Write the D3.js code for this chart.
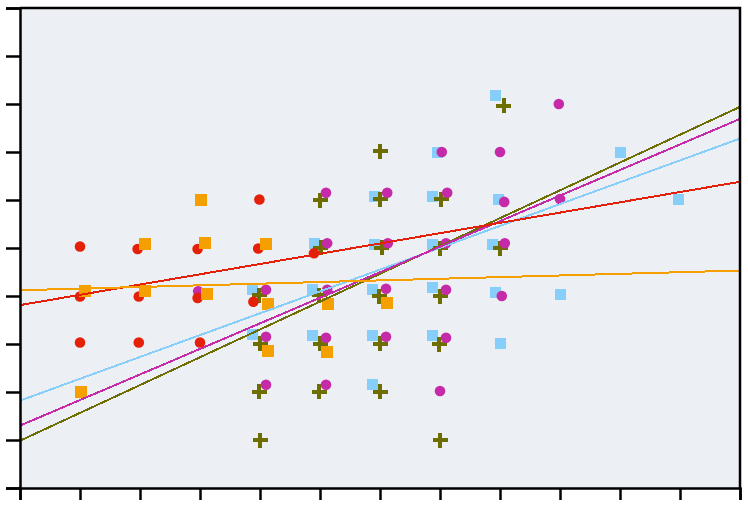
<!DOCTYPE html>
<html>
<head>
<meta charset="utf-8">
<script src="https://cdn.jsdelivr.net/npm/d3@7"></script>
<style>
  body { margin: 0; background: #ffffff; }
  svg { display: block; }
</style>
</head>
<body>
<svg id="chart" width="748" height="508"></svg>
<script>
// ---- data (x, y in data units) ----
const xTicks = [0,1,2,3,4,5,6,7,8,9,10,11,12];
const yTicks = [0,1,2,3,4,5,6,7,8,9,10];

const redPoints = [
  [1.0,5.03],[1.0,3.99],[1.0,3.03],
  [1.96,4.98],[1.98,3.99],[1.98,3.03],
  [2.96,4.98],[2.96,3.96],[3.0,3.03],
  [3.99,6.01],[3.97,4.99],[3.89,3.88],
  [4.9,4.89]
];
const orangePoints = [
  [1.02,2.0],[1.08,4.11],[2.08,5.09],[2.08,4.11],
  [3.02,6.0],[3.08,5.1],[3.12,4.05],
  [4.1,5.09],[4.13,3.84],[4.13,2.86],
  [5.12,2.84],[5.13,3.84],[6.11,3.86]
];
const bluePoints = [
  [7.93,8.17],[6.95,7.0],[10.0,7.0],[10.98,6.02],
  [5.9,6.08],[6.88,6.08],[7.97,6.02],
  [4.9,5.1],[5.9,5.08],[6.88,5.08],[7.87,5.08],
  [3.88,4.13],[4.87,4.13],[5.87,4.13],[6.87,4.17],[7.93,4.08],[9.0,4.04],
  [3.88,3.19],[4.88,3.17],[5.88,3.17],[6.87,3.17],[8.0,3.02],
  [5.88,2.15]
];
const magentaPoints = [
  [8.98,8.0],[7.03,7.0],[8.0,7.0],
  [5.1,6.15],[6.12,6.15],[7.12,6.15],[8.07,5.96],[9.0,6.02],
  [5.12,5.1],[6.13,5.1],[7.1,5.1],[8.08,5.1],
  [2.97,4.1],[4.1,4.13],[5.12,4.13],[6.1,4.15],[7.1,4.13],[8.03,4.0],
  [4.1,3.15],[5.1,3.13],[6.1,3.15],[7.1,3.13],
  [4.1,2.15],[5.1,2.15],[7.0,2.02]
];
const olivePoints = [
  [8.06,7.96],[6.0,7.02],
  [5.0,6.0],[6.0,6.02],[7.02,6.02],
  [5.01,5.01],[6.03,5.01],[7.0,5.0],[8.0,5.0],
  [3.99,4.02],[4.99,4.02],[5.99,4.0],[7.0,4.0],
  [4.0,3.01],[5.0,3.01],[6.0,3.01],[6.99,3.0],
  [3.99,2.01],[4.99,2.01],[6.0,2.01],
  [4.0,1.0],[7.0,1.0]
];

// fitted lines: [y at x=0, y at x=12]
const seriesNames = ["blue","olive","magenta","red","orange"];
const seriesColors = ["#87cefa","#6e6e00","#c52aa8","#e42108","#f5a000"];
const lineStart = [1.82, 0.985, 1.30, 3.81, 4.12];
const lineEnd   = [7.28, 7.94, 7.69, 6.38, 4.53];

(function () {
  const svg = d3.select("#chart");
  const mL = 20, mR = 740, mT = 8, mB = 488;
  const x = d3.scaleLinear().domain([0,12]).range([mL,mR]);
  const y = d3.scaleLinear().domain([0,10]).range([mB,mT]);

  svg.append("rect")
    .attr("x", mL).attr("y", mT)
    .attr("width", mR-mL).attr("height", mB-mT)
    .attr("fill", "#eceff3");

  const color = d3.scaleOrdinal().domain(seriesNames).range(seriesColors);
  const g = svg.append("g").attr("shape-rendering","crispEdges");

  // blue squares
  g.selectAll(".blue").data(bluePoints).enter().append("rect")
    .attr("x", d => x(d[0]) - 5.5).attr("y", d => y(d[1]) - 5.5)
    .attr("width", 11).attr("height", 11)
    .attr("fill", color("blue"));

  // olive plus
  g.selectAll(".olive").data(olivePoints).enter().append("path")
    .attr("transform", d => `translate(${x(d[0])},${y(d[1])})`)
    .attr("d", "M-7.5,0H7.5M0,-7.5V7.5")
    .attr("stroke", color("olive")).attr("stroke-width", 4).attr("fill","none");

  // magenta circles
  svg.append("g").selectAll("circle").data(magentaPoints).enter().append("circle")
    .attr("cx", d => x(d[0])).attr("cy", d => y(d[1])).attr("r", 5.3)
    .attr("fill", color("magenta"));

  // red circles
  svg.append("g").selectAll("circle").data(redPoints).enter().append("circle")
    .attr("cx", d => x(d[0])).attr("cy", d => y(d[1])).attr("r", 5.3)
    .attr("fill", color("red"));

  // orange squares
  svg.append("g").attr("shape-rendering","crispEdges").selectAll("rect").data(orangePoints).enter().append("rect")
    .attr("x", d => x(d[0]) - 6).attr("y", d => y(d[1]) - 6)
    .attr("width", 12).attr("height", 12)
    .attr("fill", color("orange"));

  // fitted lines
  const lineGen = d3.line().x(d => x(d[0])).y(d => y(d[1]));
  const lines = seriesNames.map((n,i) => ({name:n, pts:[[0,lineStart[i]],[12,lineEnd[i]]]}));
  svg.append("g").attr("shape-rendering","crispEdges").selectAll("path").data(lines).enter().append("path")
    .attr("d", d => lineGen(d.pts))
    .attr("stroke", d => color(d.name)).attr("stroke-width", 2).attr("fill","none");

  // axes
  const yAxis = d3.axisLeft(y).tickValues(yTicks).tickSize(14).tickFormat("");
  const xAxis = d3.axisBottom(x).tickValues(xTicks).tickSize(12).tickFormat("");
  const ya = svg.append("g").attr("transform", `translate(${mL},0)`).call(yAxis);
  const xa = svg.append("g").attr("transform", `translate(0,${mB})`).call(xAxis);
  [ya, xa].forEach(a => {
    a.selectAll("path, line").attr("stroke", "#000").attr("stroke-width", 2.5);
    a.selectAll("text").remove();
  });
  // top and right frame
  svg.append("path")
    .attr("d", `M${mL},${mT}H${mR}V${mB}`)
    .attr("stroke","#000").attr("stroke-width",2.5).attr("fill","none");
})();
</script>
</body>
</html>
